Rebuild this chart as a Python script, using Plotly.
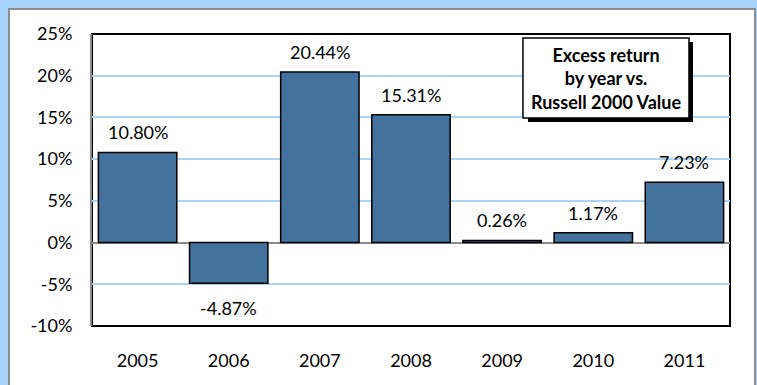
import plotly.graph_objects as go

years = ["2005", "2006", "2007", "2008", "2009", "2010", "2011"]
values = [10.80, -4.87, 20.44, 15.31, 0.26, 1.17, 7.23]
labels = ["10.80%", "-4.87%", "20.44%", "15.31%", "0.26%", "1.17%", "7.23%"]
y_ticks = [25, 20, 15, 10, 5, 0, -5, -10]
y_ticklabels = ["25%", "20%", "15%", "10%", "5%", "0%", "-5%", "-10%"]
legend_text = "Excess return<br>by year vs.<br>Russell 2000 Value"

FONT = "Lato"
BLUE_BG = "#A6D3FA"

fig = go.Figure()
fig.add_trace(go.Bar(
    x=years, y=values,
    marker=dict(color="#44729F", line=dict(color="#000000", width=1.5)),
    hoverinfo="skip",
))

annotations = []
for i, (v, t) in enumerate(zip(values, labels)):
    annotations.append(dict(
        x=i, y=v, text=t, showarrow=False, xref="x", yref="y",
        yshift=20 if v >= 0 else -25,
        font=dict(family=FONT, size=18, color="#000000"),
    ))

# legend-like text box
annotations.append(dict(
    x=0.8056, y=0.8493, xref="paper", yref="paper", text="<b>" + legend_text + "</b>",
    showarrow=False, align="center", xanchor="center", yanchor="middle",
    font=dict(family=FONT, size=18, color="#000000"),
))

shapes = [
    # white inner panel
    dict(type="rect", xref="paper", yref="paper", x0=-0.1301, x1=1.0392, y0=-0.25, y1=1.0856,
         fillcolor="#FFFFFF", line=dict(color="#8C8C8C", width=2), layer="below"),
    # plot frame
    dict(type="rect", xref="paper", yref="paper", x0=0, x1=1, y0=0, y1=1,
         fillcolor="rgba(0,0,0,0)", line=dict(color="#000000", width=2), layer="below"),
    # legend shadow
    dict(type="rect", xref="paper", yref="paper", x0=0.6834, x1=0.9420, y0=0.6986, y1=0.9726,
         fillcolor="#000000", line=dict(width=0), layer="above"),
    # legend box
    dict(type="rect", xref="paper", yref="paper", x0=0.6755, x1=0.9357, y0=0.7123, y1=0.9863,
         fillcolor="#FFFFFF", line=dict(color="#000000", width=1.5), layer="above"),
]

fig.update_layout(
    width=757, height=385,
    margin=dict(l=92, r=27, t=34, b=59),
    paper_bgcolor=BLUE_BG,
    plot_bgcolor="rgba(0,0,0,0)",
    showlegend=False,
    bargap=0.14,
    shapes=shapes,
    annotations=annotations,
    xaxis=dict(
        type="category", range=[-0.5, len(years) - 0.5], autorange=False,
        showgrid=False, showline=False, ticks="",
        tickfont=dict(family=FONT, size=18, color="#000000"),
        ticklabelstandoff=22,
    ),
    yaxis=dict(
        range=[-10, 25], tickvals=y_ticks, ticktext=y_ticklabels,
        showgrid=True, gridcolor="#A9D3F7", gridwidth=1.5,
        zeroline=True, zerolinecolor="#8C8C8C", zerolinewidth=2,
        showline=True, linecolor="#8C8C8C", linewidth=2,
        ticks="", ticklabelstandoff=14,
        tickfont=dict(family=FONT, size=18, color="#000000"),
    ),
)

fig.write_html("out.html")
